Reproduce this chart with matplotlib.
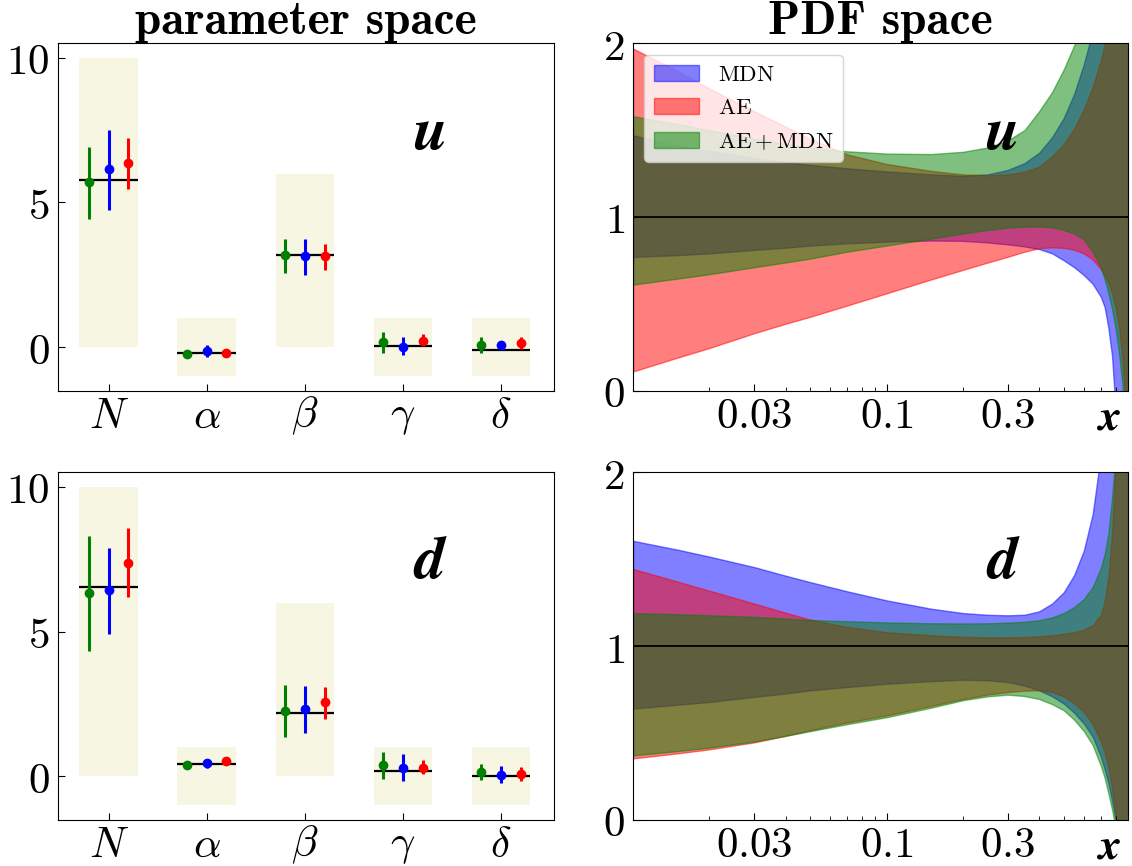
import matplotlib
matplotlib.use('Agg')
import matplotlib.pyplot as plt
from matplotlib.patches import Rectangle
from matplotlib.ticker import FixedLocator, FixedFormatter, LogLocator, NullFormatter
import numpy as np

plt.rcParams['mathtext.fontset'] = 'cm'
plt.rcParams['font.family'] = 'serif'
plt.rcParams['font.serif'] = ['DejaVu Serif']

# parameter space
params = [r'$N$', r'$\alpha$', r'$\beta$', r'$\gamma$', r'$\delta$']
prior_lo = [0, -1, 0, -1, -1]
prior_hi = [10, 1, 6, 1, 1]

u_true = [5.77, -0.19, 3.17, 0.03, -0.11]
u_mdn = [6.14, -0.14, 3.15, 0.02, 0.09]
u_mdn_lo = [4.75, -0.35, 2.51, -0.26, -0.06]
u_mdn_hi = [7.50, 0.08, 3.75, 0.35, 0.23]
u_ae = [6.37, -0.19, 3.14, 0.23, 0.15]
u_ae_lo = [5.48, -0.22, 2.65, 0.06, -0.06]
u_ae_hi = [7.23, -0.16, 3.55, 0.46, 0.35]
u_both = [5.71, -0.23, 3.17, 0.17, 0.06]
u_both_lo = [4.44, -0.27, 2.56, -0.19, -0.21]
u_both_hi = [6.90, -0.19, 3.75, 0.52, 0.35]

d_true = [6.54, 0.42, 2.19, 0.18, 0.0]
d_mdn = [6.44, 0.46, 2.33, 0.30, 0.06]
d_mdn_lo = [4.91, 0.30, 1.50, -0.16, -0.23]
d_mdn_hi = [7.90, 0.61, 3.11, 0.76, 0.35]
d_ae = [7.38, 0.53, 2.56, 0.30, 0.07]
d_ae_lo = [6.18, 0.48, 1.97, 0.09, -0.16]
d_ae_hi = [8.57, 0.58, 3.09, 0.55, 0.32]
d_both = [6.32, 0.38, 2.25, 0.38, 0.15]
d_both_lo = [4.33, 0.27, 1.34, -0.10, -0.14]
d_both_hi = [8.30, 0.50, 3.15, 0.84, 0.42]

# PDF space (ratio bands)
x_grid = [0.01, 0.015, 0.02, 0.03, 0.04, 0.05, 0.07, 0.1, 0.15, 0.2, 0.25, 0.3, 0.35,
          0.4, 0.45, 0.5, 0.55, 0.6, 0.65, 0.7, 0.725, 0.75, 0.775, 0.8, 0.825, 0.85,
          0.875, 0.9]

pu_mdn_hi = [1.47, 1.41, 1.38, 1.34, 1.315, 1.30, 1.28, 1.262, 1.245, 1.237, 1.245, 1.27, 1.31,
             1.37, 1.46, 1.57, 1.71, 1.88, 2.07, 2.3, 2.42, 2.55, 2.7, 2.9, 3.1, 3.3,
             3.5, 3.7]
pu_mdn_lo = [0.77, 0.78, 0.79, 0.81, 0.823, 0.835, 0.848, 0.858, 0.864, 0.862, 0.853, 0.842, 0.83,
             0.815, 0.79, 0.75, 0.71, 0.665, 0.615, 0.54, 0.48, 0.36, 0.2, -0.1, -0.3, -0.5,
             -0.7, -0.9]
pu_ae_hi = [1.97, 1.84, 1.74, 1.61, 1.52, 1.45, 1.36, 1.305, 1.265, 1.245, 1.24, 1.245, 1.26,
            1.29, 1.35, 1.42, 1.51, 1.62, 1.75, 1.90, 1.99, 2.09, 2.2, 2.35, 2.5, 2.7,
            2.9, 3.1]
pu_ae_lo = [0.11, 0.19, 0.245, 0.33, 0.385, 0.425, 0.49, 0.56, 0.64, 0.695, 0.737, 0.77, 0.80,
            0.82, 0.825, 0.822, 0.81, 0.79, 0.755, 0.70, 0.665, 0.62, 0.56, 0.48, 0.37, 0.2,
            -0.05, -0.4]
pu_both_hi = [1.58, 1.535, 1.50, 1.45, 1.42, 1.40, 1.378, 1.365, 1.362, 1.375, 1.40, 1.44, 1.50,
              1.61, 1.72, 1.85, 1.99, 2.15, 2.32, 2.55, 2.7, 2.85, 3.0, 3.2, 3.4, 3.6,
              3.8, 4.0]
pu_both_lo = [0.61, 0.645, 0.67, 0.71, 0.738, 0.76, 0.80, 0.835, 0.875, 0.905, 0.925, 0.938, 0.944,
              0.945, 0.94, 0.925, 0.905, 0.87, 0.80, 0.71, 0.64, 0.56, 0.47, 0.36, 0.22, 0.05,
              -0.2, -0.4]

pd_mdn_hi = [1.606, 1.555, 1.515, 1.455, 1.405, 1.368, 1.315, 1.263, 1.215, 1.19, 1.18, 1.177, 1.18,
             1.20, 1.245, 1.31, 1.41, 1.55, 1.76, 2.1, 2.3, 2.5, 2.7, 2.9, 3.1, 3.3,
             3.5, 3.6]
pd_mdn_lo = [0.64, 0.662, 0.678, 0.707, 0.727, 0.745, 0.764, 0.783, 0.798, 0.806, 0.803, 0.793, 0.772,
             0.745, 0.71, 0.669, 0.615, 0.554, 0.478, 0.363, 0.29, 0.21, 0.11, 0.0, -0.15, -0.3,
             -0.5, -0.8]
pd_ae_hi = [1.444, 1.371, 1.319, 1.245, 1.192, 1.152, 1.11, 1.08, 1.062, 1.053, 1.05, 1.05, 1.052,
            1.056, 1.062, 1.07, 1.08, 1.095, 1.12, 1.18, 1.26, 1.40, 1.65, 2.05, 2.5, 2.9,
            3.2, 3.5]
pd_ae_lo = [0.353, 0.382, 0.405, 0.445, 0.483, 0.515, 0.56, 0.60, 0.655, 0.695, 0.72, 0.735, 0.743,
            0.745, 0.735, 0.71, 0.67, 0.62, 0.55, 0.45, 0.385, 0.30, 0.18, 0.04, -0.15, -0.3,
            -0.5, -0.8]
pd_both_hi = [1.19, 1.183, 1.177, 1.168, 1.158, 1.15, 1.143, 1.136, 1.131, 1.13, 1.131, 1.135, 1.14,
              1.149, 1.165, 1.19, 1.225, 1.27, 1.34, 1.45, 1.53, 1.65, 1.85, 2.1, 2.5, 2.9,
              3.2, 3.5]
pd_both_lo = [0.37, 0.395, 0.415, 0.45, 0.483, 0.51, 0.55, 0.59, 0.645, 0.688, 0.71, 0.72, 0.712,
              0.695, 0.665, 0.63, 0.575, 0.51, 0.43, 0.31, 0.24, 0.15, 0.06, -0.05, -0.2, -0.35,
              -0.5, -0.8]

TICK_FS = 31
fig = plt.figure(figsize=(11.32, 8.66), dpi=100)
ax_tl = fig.add_axes([0.0511, 0.549, 0.4383, 0.401])
ax_bl = fig.add_axes([0.0511, 0.0535, 0.4383, 0.401])
ax_tr = fig.add_axes([0.5592, 0.549, 0.4377, 0.401])
ax_br = fig.add_axes([0.5592, 0.0535, 0.4377, 0.401])

flav_kw = dict(fontsize=44, fontweight='bold', fontstyle='italic', family='STIXGeneral')


def param_panel(ax, true, sets, flavour):
    xs = np.arange(len(params))
    for i in xs:
        ax.add_patch(Rectangle((i - 0.3, prior_lo[i]), 0.6, prior_hi[i] - prior_lo[i],
                               facecolor='#f7f6e3', edgecolor='none', zorder=0))
    ax.hlines(true, xs - 0.3, xs + 0.3, color='black', lw=1.6, zorder=2)
    for off, (c, lo, hi, col) in zip([-0.2, 0.0, 0.2], sets):
        c = np.array(c)
        yerr = [c - np.array(lo), np.array(hi) - c]
        ax.errorbar(xs + off, c, yerr=yerr, fmt='o', color=col, ms=6,
                    elinewidth=2.2, capsize=0, zorder=3)
    ax.set_xlim(-0.52, 4.54)
    ax.set_ylim(-1.5, 10.5)
    ax.xaxis.set_major_locator(FixedLocator(xs))
    ax.xaxis.set_major_formatter(FixedFormatter(params))
    ax.yaxis.set_major_locator(FixedLocator([0, 5, 10]))
    ax.yaxis.set_major_formatter(FixedFormatter([r'$0$', r'$5$', r'$10$']))
    ax.tick_params(direction='in', length=5, labelsize=TICK_FS, pad=6)
    ax.tick_params(axis='x', pad=3)
    ax.text(0.75, 0.695, flavour, transform=ax.transAxes, ha='center', va='baseline', **flav_kw)


def pdf_panel(ax, bands, flavour, legend=False):
    for hi, lo, col, lab in bands:
        ax.fill_between(x_grid, lo, hi, color=col, alpha=0.5, label=lab)
    ax.axhline(1.0, color='black', lw=1.3)
    ax.set_xscale('log')
    ax.set_xlim(0.01, 0.9)
    ax.set_ylim(0, 2)
    ax.xaxis.set_major_locator(FixedLocator([0.03, 0.1, 0.3]))
    ax.xaxis.set_major_formatter(FixedFormatter([r'$0.03$', r'$0.1$', r'$0.3$']))
    ax.xaxis.set_minor_locator(LogLocator(base=10, subs=np.arange(2, 10)))
    ax.xaxis.set_minor_formatter(NullFormatter())
    ax.yaxis.set_major_locator(FixedLocator([0, 1, 2]))
    ax.yaxis.set_major_formatter(FixedFormatter([r'$0$', r'$1$', r'$2$']))
    ax.tick_params(which='major', direction='in', length=5, labelsize=TICK_FS, pad=6)
    ax.tick_params(axis='x', which='major', pad=3)
    ax.tick_params(which='minor', direction='in', length=3)
    ax.text(0.745, 0.695, flavour, transform=ax.transAxes, ha='center', va='baseline', **flav_kw)
    ax.text(0.963, -0.025, 'x', transform=ax.transAxes, ha='center', va='top',
            fontsize=32, fontweight='bold', fontstyle='italic', family='STIXGeneral')
    if legend:
        ax.legend(loc='upper left', fontsize=16.5)


param_panel(ax_tl, u_true, [(u_both, u_both_lo, u_both_hi, 'green'),
                            (u_mdn, u_mdn_lo, u_mdn_hi, 'blue'),
                            (u_ae, u_ae_lo, u_ae_hi, 'red')], 'u')
param_panel(ax_bl, d_true, [(d_both, d_both_lo, d_both_hi, 'green'),
                            (d_mdn, d_mdn_lo, d_mdn_hi, 'blue'),
                            (d_ae, d_ae_lo, d_ae_hi, 'red')], 'd')

pdf_panel(ax_tr, [(pu_mdn_hi, pu_mdn_lo, 'blue', r'$\mathrm{MDN}$'),
                  (pu_ae_hi, pu_ae_lo, 'red', r'$\mathrm{AE}$'),
                  (pu_both_hi, pu_both_lo, 'green', r'$\mathrm{AE+MDN}$')], 'u', legend=True)
pdf_panel(ax_br, [(pd_mdn_hi, pd_mdn_lo, 'blue', r'$\mathrm{MDN}$'),
                  (pd_ae_hi, pd_ae_lo, 'red', r'$\mathrm{AE}$'),
                  (pd_both_hi, pd_both_lo, 'green', r'$\mathrm{AE+MDN}$')], 'd')

ax_tl.set_title('parameter space', fontsize=34, family='cmb10', pad=6)
ax_tr.set_title('PDF space', fontsize=34, family='cmb10', pad=6)

fig.savefig('out.png', dpi=100)
